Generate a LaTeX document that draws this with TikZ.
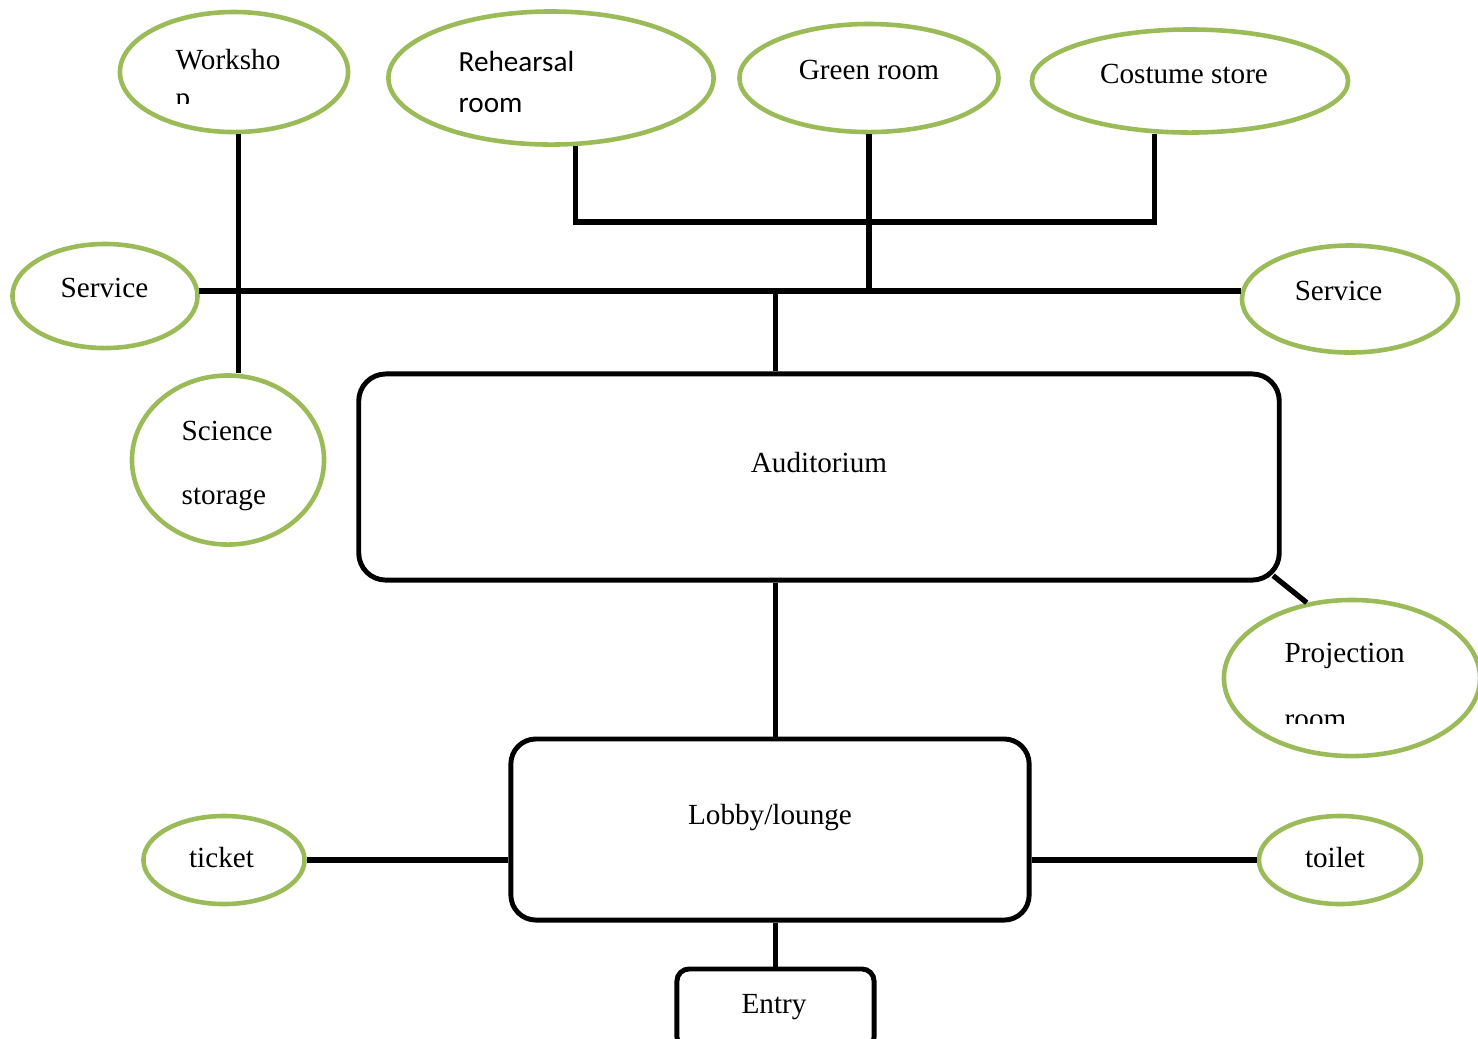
\documentclass[tikz,border=0pt]{standalone}
\usepackage{fontspec}
\setmainfont{Liberation Serif}
\newfontfamily\calibri{Carlito}
\usetikzlibrary{shapes}
\definecolor{leaf}{HTML}{9BBB59}
\tikzstyle{room} = [ellipse, draw=leaf, line width=1.3pt, inner sep=0pt]
\tikzstyle{hall} = [rectangle, draw, line width=1.4pt, rounded corners=0.27cm]
\tikzstyle{word} = [inner sep=0pt, anchor=base]
\tikzstyle{lines} = [inner sep=0pt, anchor=west, align=left]
\tikzstyle{link} = [line width=1.5pt]

\begin{document}
\begin{tikzpicture}[x=0.01cm,y=-0.01cm,font=\fontsize{8.3}{10}\selectfont]
  \path[use as bounding box] (0,0) rectangle (1478,1038);
  \clip (0,0) rectangle (1478,1038);

  \node[room, minimum width=2.28cm, minimum height=1.20cm] (1)  at (234,72)   {};
  \node[room, minimum width=3.25cm, minimum height=1.33cm] (2)  at (551,78)   {};
  \node[room, minimum width=2.59cm, minimum height=1.08cm] (3)  at (869,78)   {};
  \node[room, minimum width=3.16cm, minimum height=1.03cm] (4)  at (1190,81)  {};
  \node[room, minimum width=1.85cm, minimum height=1.04cm] (5)  at (105,296)  {};
  \node[room, minimum width=2.16cm, minimum height=1.07cm] (6)  at (1350,299) {};
  \node[hall, minimum width=9.20cm, minimum height=2.06cm] (7)  at (819,477)  {};
  \node[room, minimum width=1.92cm, minimum height=1.69cm] (8)  at (228,460)  {};
  \node[room, minimum width=2.56cm, minimum height=1.56cm] (9)  at (1352,678) {};
  \node[hall, minimum width=5.18cm, minimum height=1.81cm,
        rounded corners=0.25cm]                            (10) at (770,829.5) {};
  \node[room, minimum width=1.61cm, minimum height=0.88cm] (11) at (224,860)  {};
  \node[room, minimum width=1.62cm, minimum height=0.88cm] (12) at (1340,860) {};
  \node[hall, minimum width=1.97cm, minimum height=0.80cm,
        rounded corners=0.12cm]                            (13) at (775.5,1009) {};

  \begin{scope}
    \clip (150,20) rectangle (330,103);
    \node[lines] (1t) at (175,81.5) {Worksho\\[0.027cm]p};
  \end{scope}
  \node[lines, font=\fontsize{8.3}{10}\calibri] (2t) at (458,82) {Rehearsal\\[0.055cm]room};
  \node[word] (3t)  at (869,79)    {Green room};
  \node[word] (4t)  at (1184,83.5) {Costume store};
  \node[word] (5t)  at (104.5,297.5) {Service};
  \node[word] (6t)  at (1338.5,300.5) {Service};
  \node[word] (7t)  at (819,472.5) {Auditorium};
  \node[lines] (8t) at (181,466)   {Science\\[0.28cm]storage};
  \begin{scope}
    \clip (1260,620) rectangle (1470,723);
    \node[lines] (9t) at (1284,686) {Projection\\[0.31cm]room};
  \end{scope}
  \node[word] (10t) at (770,824.5) {Lobby/lounge};
  \node[word] (11t) at (221.5,867.5) {ticket};
  \node[word] (12t) at (1335,867.5) {toilet};
  \node[word] (13t) at (774,1013.5) {Entry};

  \draw[link] (1.-86) -- (1.-86 |- 8.north);
  \draw[link] (5.3) -- (5.3 -| 6.176);
  \draw[link] (3.south) -- (3.south |- 5.3);
  \draw[link] (2.-70) -- ++(0,76) -| (4.-124);
  \draw[link] (7.north -| 13.north) -- (13.north |- 5.3);
  \draw[link] (10.north -| 13.north) -- (13.north |- 7.south);
  \draw[link] (13.north) -- (13.north |- 10.south);
  \draw[link, shorten <=-0.11cm] (7.south east) -- (9.121);
  \draw[link] (11.east) -- (11.east -| 10.west);
  \draw[link] (10.east |- 12.west) -- (12.west);
\end{tikzpicture}
\end{document}
